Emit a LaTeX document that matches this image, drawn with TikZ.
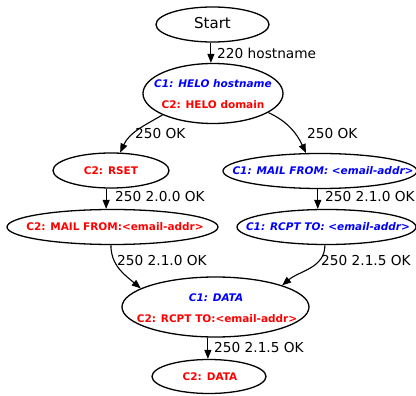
\documentclass[tikz,border=0pt]{standalone}
\usepackage{fontspec}
\setmainfont{DejaVu Sans}
\usetikzlibrary{shapes.geometric,arrows.meta}
\definecolor{cblue}{RGB}{0,0,255}
\definecolor{cred}{RGB}{255,0,0}
\begin{document}
\begin{tikzpicture}[x=1pt,y=1pt,
  ell/.style={ellipse,draw,line width=1.3pt,inner sep=0pt},
  arr/.style={line width=1.1pt,-{Triangle[length=9pt,width=7pt]}},
  elab/.style={anchor=west,inner sep=0pt,font=\fontsize{13.7}{16}\selectfont,text height=0.73em,text depth=0pt},
  stext/.style={inner sep=0pt,font=\fontsize{15}{18}\selectfont,text height=0.73em,text depth=0pt},
  ctext/.style={inner sep=0pt,font=\fontsize{10.5}{12}\selectfont\bfseries\itshape,text=cblue,text height=0.73em,text depth=0pt},
  rtext/.style={inner sep=0pt,font=\fontsize{10.5}{12}\selectfont\bfseries,text=cred,text height=0.73em,text depth=0pt}]
\useasboundingbox (0,0) rectangle (416,-396);
\fill[white] (0,0) rectangle (416,-396);
% nodes
\node[ell,minimum width=113,minimum height=35] (start) at (212.5,-24.5) {};
\node[stext] (startT) at (start) {Start};
\node[ell,minimum width=140,minimum height=60] (helo) at (213,-93.5) {};
\node[ctext] (heloA) at (213,-84) {C1: HELO hostname};
\node[rtext] (heloB) at (213,-104.5) {C2: HELO domain};
\node[ell,minimum width=116,minimum height=35] (rset) at (111,-170.5) {};
\node[rtext] (rsetT) at (rset) {C2: RSET};
\node[ell,minimum width=194,minimum height=35] (mailB) at (320,-171) {};
\node[ctext] (mailBT) at (323,-171) {C1: MAIL FROM: <email-addr>};
\node[ell,minimum width=211,minimum height=35] (mailR) at (112.5,-227) {};
\node[rtext] (mailRT) at (115,-226.5) {C2: MAIL FROM:<email-addr>};
\node[ell,minimum width=179,minimum height=35] (rcpt) at (326.5,-227) {};
\node[ctext] (rcptT) at (328,-227) {C1: RCPT TO: <email-addr>};
\node[ell,minimum width=187,minimum height=60] (data) at (215.5,-307) {};
\node[ctext] (dataA) at (216,-298) {C1: DATA};
\node[rtext] (dataB) at (217,-319) {C2: RCPT TO:<email-addr>};
\node[ell,minimum width=114,minimum height=34] (fin) at (209,-376.5) {};
\node[rtext] (finT) at (210,-377) {C2: DATA};
% edges
\draw[arr] (start.265) -- (start.265 |- helo.north);
\draw[arr] (helo.203) to[out=210,in=65] (rset.63);
\draw[arr] (helo.-19) to[out=-25,in=115] (mailB.128);
\draw[arr] (rset.255) -- (rset.255 |- mailR.north);
\draw[arr] (mailB.263) -- (mailB.263 |- rcpt.north);
\draw[arr] (mailR.265) to[out=270,in=140] (data.166);
\draw[arr] (rcpt.265) to[out=270,in=40] (data.18);
\draw[arr] (data.256) -- (data.256 |- fin.north);
% edge labels
\node[elab] (l1) at (217,-54.5) {220 hostname};
\node[elab] (l2) at (135,-135) {250 OK};
\node[elab] (l3) at (307,-135) {250 OK};
\node[elab] (l4) at (115,-198) {250 2.0.0 OK};
\node[elab] (l5) at (325,-198) {250 2.1.0 OK};
\node[elab] (l6) at (117,-262) {250 2.1.0 OK};
\node[elab] (l7) at (321,-262) {250 2.1.5 OK};
\node[elab] (l8) at (214,-349) {250 2.1.5 OK};
\end{tikzpicture}
\end{document}
